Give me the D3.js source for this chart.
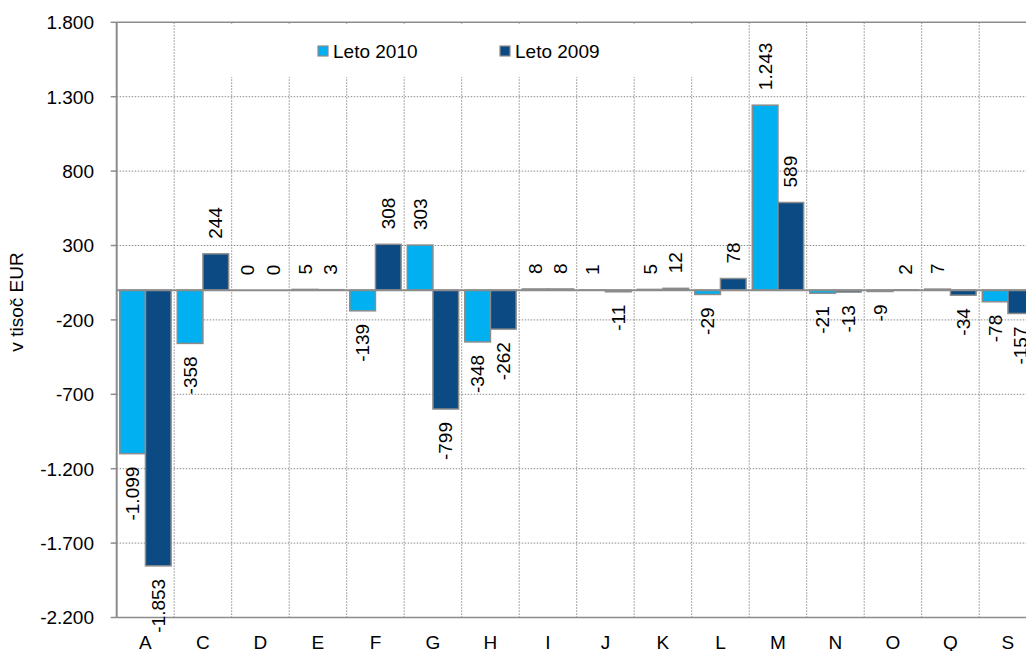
<!DOCTYPE html>
<html lang="sl">
<head>
    <meta charset="UTF-8">
    <title>Leto 2010 / Leto 2009</title>
    <script src="https://cdnjs.cloudflare.com/ajax/libs/d3/7.8.5/d3.min.js"></script>
    <style>
        body { margin: 0; padding: 0; background: #fff; }
        svg { display: block; font-family: "Liberation Sans", Arial, sans-serif; }
        .grid line { stroke: #8c8c8c; stroke-width: 1; stroke-dasharray: 1.5,1.5; }
        text { fill: #000; }
    </style>
</head>
<body>
    <div id="chart"></div>

    <script>
        // Data (v tisoč EUR)
        const categories = ['A', 'C', 'D', 'E', 'F', 'G', 'H', 'I', 'J', 'K', 'L', 'M', 'N', 'O', 'Q', 'S'];
        const values2010 = [-1099, -358, 0, 5, -139, 303, -348, 8, 1, 5, -29, 1243, -21, -9, 7, -78];
        const values2009 = [-1853, 244, 0, 3, 308, -799, -262, 8, -11, 12, 78, 589, -13, 2, -34, -157];
        const seriesNames = ['Leto 2010', 'Leto 2009'];
        const seriesColors = ['#00b0f0', '#0c4a84'];
        const yTicks = [-2200, -1700, -1200, -700, -200, 300, 800, 1300, 1800];

        const width = 1026, height = 651;
        const plotLeft = 116.7, plotRight = 1036.7, plotTop = 22.3, plotBottom = 617.5;

        // Slovenian number format: "." as thousands separator
        const fmt = v => d3.format(',')(v).replace(/,/g, '.').replace('−', '-');

        const svg = d3.select('#chart').append('svg')
            .attr('width', width)
            .attr('height', height);

        const x0 = d3.scaleBand().domain(categories).range([plotLeft, plotRight]).padding(0);
        const x1 = d3.scaleBand().domain(seriesNames).range([0, x0.bandwidth()])
            .paddingInner(0).paddingOuter(0.12);
        const y = d3.scaleLinear().domain([-2200, 1800]).range([plotBottom, plotTop]);

        // Horizontal gridlines
        svg.append('g').attr('class', 'grid')
            .selectAll('line')
            .data(yTicks.slice(1, -1))
            .enter().append('line')
            .attr('x1', plotLeft).attr('x2', plotRight)
            .attr('y1', d => y(d)).attr('y2', d => y(d));

        // Vertical gridlines between categories
        svg.append('g').attr('class', 'grid')
            .selectAll('line')
            .data(categories.slice(1))
            .enter().append('line')
            .attr('x1', d => x0(d)).attr('x2', d => x0(d))
            .attr('y1', plotTop).attr('y2', plotBottom);

        // Plot border top / bottom
        svg.append('line').attr('x1', plotLeft).attr('x2', plotRight)
            .attr('y1', plotTop).attr('y2', plotTop)
            .attr('stroke', '#8c8c8c').attr('stroke-width', 1.5);
        svg.append('line').attr('x1', plotLeft).attr('x2', plotRight)
            .attr('y1', plotBottom).attr('y2', plotBottom)
            .attr('stroke', '#8c8c8c').attr('stroke-width', 1.5);

        // Legend (white box hides the gridlines behind it)
        const legend = svg.append('g');
        legend.append('rect')
            .attr('x', 176).attr('y', 25)
            .attr('width', 568).attr('height', 52)
            .attr('fill', '#fff');
        const legendX = [318, 500];
        seriesNames.forEach((name, i) => {
            legend.append('rect')
                .attr('x', legendX[i]).attr('y', 46)
                .attr('width', 10).attr('height', 10)
                .attr('fill', seriesColors[i])
                .attr('stroke', '#8c8c8c').attr('stroke-width', 1.2);
            legend.append('text')
                .attr('x', legendX[i] + 15).attr('y', 58)
                .attr('font-size', 19)
                .text(name);
        });

        // Bars
        const rows = categories.map((c, i) => ({ cat: c, vals: [values2010[i], values2009[i]] }));
        const groups = svg.append('g').selectAll('g')
            .data(rows)
            .enter().append('g')
            .attr('transform', d => `translate(${x0(d.cat)},0)`);

        groups.selectAll('rect')
            .data(d => d.vals.map((v, i) => ({ v, s: seriesNames[i], i })))
            .enter().append('rect')
            .attr('x', d => x1(d.s))
            .attr('width', x1.bandwidth())
            .attr('y', d => y(Math.max(0, d.v)))
            .attr('height', d => Math.abs(y(d.v) - y(0)))
            .attr('fill', d => seriesColors[d.i])
            .attr('stroke', '#8c8c8c').attr('stroke-width', 1.5);

        // Category axis line at zero
        svg.append('line').attr('x1', plotLeft).attr('x2', plotRight)
            .attr('y1', y(0)).attr('y2', y(0))
            .attr('stroke', '#8c8c8c').attr('stroke-width', 2);

        // Data labels, rotated
        groups.selectAll('text')
            .data(d => d.vals.map((v, i) => ({ v, s: seriesNames[i] })))
            .enter().append('text')
            .attr('font-size', 19)
            .attr('dominant-baseline', 'central')
            .attr('text-anchor', d => d.v >= 0 ? 'start' : 'end')
            .attr('transform', d => {
                const cx = x1(d.s) + x1.bandwidth() / 2;
                const cy = d.v >= 0 ? y(d.v) - 15 : y(d.v) + 13;
                return `translate(${cx},${cy}) rotate(-90)`;
            })
            .text(d => fmt(d.v));

        // Y axis
        const yAxis = svg.append('g');
        yAxis.append('line')
            .attr('x1', plotLeft).attr('x2', plotLeft)
            .attr('y1', plotTop).attr('y2', plotBottom)
            .attr('stroke', '#8c8c8c').attr('stroke-width', 2);
        yAxis.selectAll('.tick')
            .data(yTicks)
            .enter().append('line')
            .attr('x1', plotLeft - 6).attr('x2', plotLeft)
            .attr('y1', d => y(d)).attr('y2', d => y(d))
            .attr('stroke', '#8c8c8c').attr('stroke-width', 1.5);
        yAxis.selectAll('text')
            .data(yTicks)
            .enter().append('text')
            .attr('x', 94)
            .attr('y', d => y(d) + 6.8)
            .attr('text-anchor', 'end')
            .attr('font-size', 19)
            .text(d => fmt(d));

        // Category labels
        svg.append('g').selectAll('text')
            .data(categories)
            .enter().append('text')
            .attr('x', d => x0(d) + x0.bandwidth() / 2)
            .attr('y', 649)
            .attr('text-anchor', 'middle')
            .attr('font-size', 19)
            .text(d => d);

        // Y axis title
        svg.append('text')
            .attr('transform', 'translate(23,302) rotate(-90)')
            .attr('text-anchor', 'middle')
            .attr('font-size', 19)
            .text('v tisoč EUR');
    </script>
</body>
</html>
